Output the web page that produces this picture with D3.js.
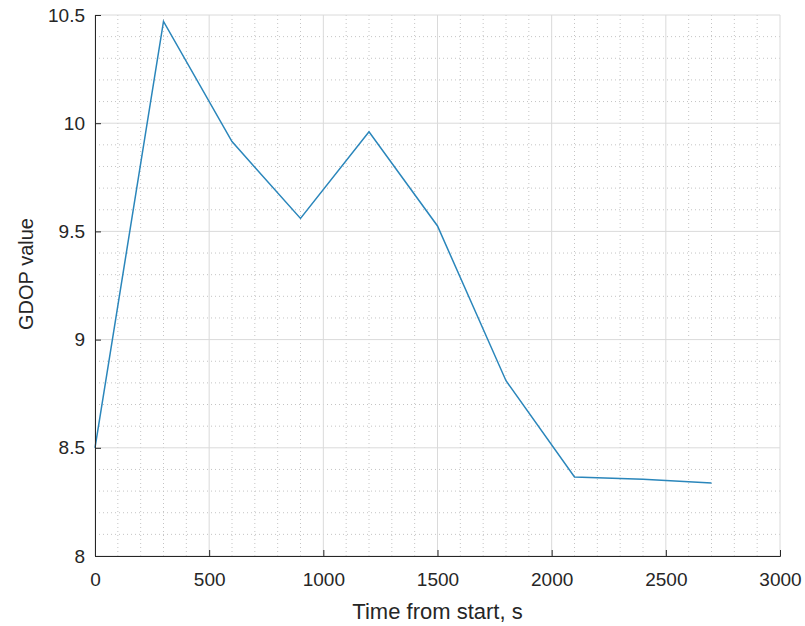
<!DOCTYPE html>
<html>
<head>
<meta charset="utf-8">
<script src="https://cdn.jsdelivr.net/npm/d3@7"></script>
<style>
body { margin: 0; background: #fff; }
text { font-family: "Liberation Sans", Arial, sans-serif; fill: #262626; }
</style>
</head>
<body>
<script>
var times = [0, 300, 600, 900, 1200, 1500, 1800, 2100, 2400, 2700];
var gdop = [8.5, 10.47, 9.915, 9.56, 9.96, 9.525, 8.81, 8.365, 8.355, 8.337];
var xTicks = [0, 500, 1000, 1500, 2000, 2500, 3000];
var yTicks = [8, 8.5, 9, 9.5, 10, 10.5];

var margin = {top: 15, right: 25, bottom: 70, left: 95},
	width = 805 - margin.left - margin.right,
	height = 626 - margin.top - margin.bottom;

var x = d3.scaleLinear().domain([0, 3000]).range([0, width]);
var y = d3.scaleLinear().domain([8, 10.5]).range([height, 0]);

var svg = d3.select("body").append("svg")
		.attr("width", 805)
		.attr("height", 626)
	.append("g")
		.attr("transform", "translate(" + margin.left + "," + margin.top + ")");

// minor grid
var xMinor = d3.range(0, 3001, 100).filter(v => v % 500 != 0);
var yMinor = d3.range(80, 106, 1).map(v => v / 10).filter(v => Math.round(v * 10) % 5 != 0);

svg.append("g").selectAll("line")
	.data(xMinor)
	.enter().append("line")
	.attr("x1", d => x(d)).attr("x2", d => x(d))
	.attr("y1", 0).attr("y2", height)
	.attr("stroke", "#c4c4c4")
	.attr("stroke-dasharray", "1,3");

svg.append("g").selectAll("line")
	.data(yMinor)
	.enter().append("line")
	.attr("y1", d => y(d)).attr("y2", d => y(d))
	.attr("x1", 0).attr("x2", width)
	.attr("stroke", "#c4c4c4")
	.attr("stroke-dasharray", "1,3");

// major grid
svg.append("g").selectAll("line")
	.data(xTicks)
	.enter().append("line")
	.attr("x1", d => x(d)).attr("x2", d => x(d))
	.attr("y1", 0).attr("y2", height)
	.attr("stroke", "#dadada");

svg.append("g").selectAll("line")
	.data(yTicks)
	.enter().append("line")
	.attr("y1", d => y(d)).attr("y2", d => y(d))
	.attr("x1", 0).attr("x2", width)
	.attr("stroke", "#dadada");

// line
var line = d3.line()
	.x((d, i) => x(times[i]))
	.y(d => y(d));

svg.append("path")
	.datum(gdop)
	.attr("fill", "none")
	.attr("stroke", "#2a86bb")
	.attr("stroke-width", 1.5)
	.attr("d", line);

// axes
var xAxis = svg.append("g")
	.attr("transform", "translate(0," + height + ")")
	.call(d3.axisBottom(x).tickValues(xTicks).tickSize(-6).tickPadding(17).tickFormat(d3.format("d")));
var yAxis = svg.append("g")
	.call(d3.axisLeft(y).tickValues(yTicks).tickSize(-6).tickPadding(10).tickFormat(d => d));

[xAxis, yAxis].forEach(function(a) {
	a.select(".domain").attr("stroke", "#262626");
	a.selectAll(".tick line").attr("stroke", "#262626");
	a.selectAll(".tick text")
		.style("font-family", "'Liberation Sans', Arial, sans-serif")
		.style("font-size", "19px")
		.attr("fill", "#262626");
});

svg.append("text")
	.attr("x", width / 2)
	.attr("y", 619 - margin.top)
	.attr("text-anchor", "middle")
	.style("font-size", "22px")
	.text("Time from start, s");

svg.append("text")
	.attr("transform", "translate(" + (33 - margin.left) + "," + (274 - margin.top) + ") rotate(-90)")
	.attr("text-anchor", "middle")
	.style("font-size", "20px")
	.text("GDOP value");
</script>
</body>
</html>
